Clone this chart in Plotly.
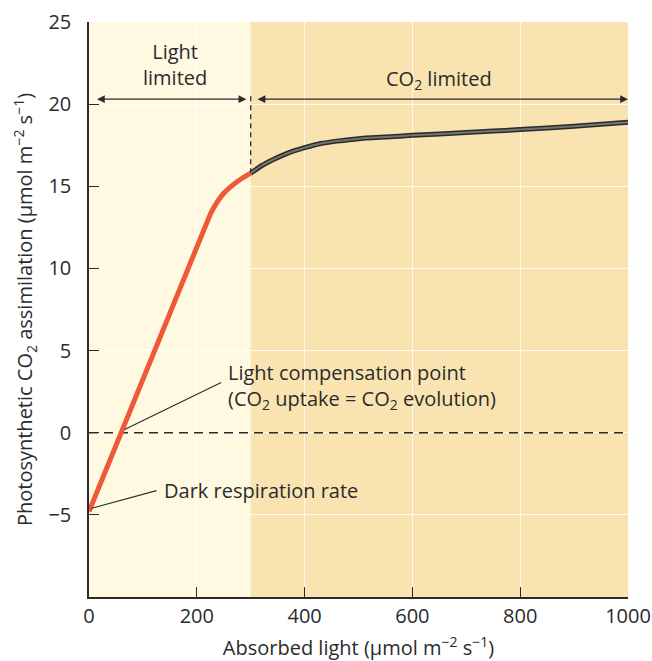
import plotly.graph_objects as go

# absorbed light (umol m-2 s-1) and CO2 assimilation
light_limited_x = [0, 225, 236, 248, 262, 280, 300]
light_limited_y = [-4.8, 13.3, 13.95, 14.5, 14.95, 15.4, 15.8]
co2_limited_x = [300, 320, 340, 360, 380, 400, 430, 460, 500, 550, 600, 700, 800, 900, 1000]
co2_limited_y = [15.8, 16.25, 16.6, 16.9, 17.15, 17.35, 17.6, 17.75, 17.9, 18.0, 18.1,
                 18.27, 18.45, 18.65, 18.9]

x_ticks = [0, 200, 400, 600, 800, 1000]
y_ticks = [-5, 0, 5, 10, 15, 20, 25]
y_tick_text = ['\u22125', '0', '5', '10', '15', '20', '25']

boundary = 300
arrow_y = 20.3

FONT = 'Open Sans'
SIZE = 20
INK = '#2b2b2b'

fig = go.Figure()

# compensation line at zero
fig.add_trace(go.Scatter(
    x=[0, 1000], y=[0, 0], mode='lines',
    line=dict(color=INK, width=1.5, dash='9px,6px'),
    hoverinfo='skip', showlegend=False
))

# boundary between light and CO2 limitation
fig.add_trace(go.Scatter(
    x=[boundary, boundary], y=[co2_limited_y[0], arrow_y + 0.4], mode='lines',
    line=dict(color=INK, width=1.3, dash='5px,4px'),
    hoverinfo='skip', showlegend=False
))

# red part of the curve
fig.add_trace(go.Scatter(
    x=light_limited_x, y=light_limited_y, mode='lines',
    line=dict(color='#ee5a36', width=5, shape='spline', smoothing=0.3),
    hoverinfo='skip', showlegend=False
))

# grey part of the curve, dark edge + lighter core
fig.add_trace(go.Scatter(
    x=co2_limited_x, y=co2_limited_y, mode='lines',
    line=dict(color='#2a2a2a', width=5, shape='spline', smoothing=0.5),
    hoverinfo='skip', showlegend=False
))
fig.add_trace(go.Scatter(
    x=co2_limited_x, y=co2_limited_y, mode='lines',
    line=dict(color='#77726f', width=2, shape='spline', smoothing=0.5),
    hoverinfo='skip', showlegend=False
))

# tan background for the CO2 limited region
fig.add_shape(type='rect', xref='x', yref='y', x0=boundary, x1=1000, y0=-10, y1=25,
              fillcolor='#f9e4b1', line=dict(width=0), layer='below')

arrow = dict(xref='x', yref='y', axref='x', ayref='y', showarrow=True, text='',
             arrowhead=2, arrowsize=1.3, arrowwidth=1.2, arrowcolor=INK,
             arrowside='end+start')
fig.add_annotation(x=292, y=arrow_y, ax=12, ay=arrow_y, **arrow)
fig.add_annotation(x=1000, y=arrow_y, ax=310, ay=arrow_y, **arrow)

txt = dict(xref='x', yref='y', showarrow=False, font=dict(family=FONT, size=SIZE, color=INK))
fig.add_annotation(x=160, y=22.4, text='Light<br>limited', align='center', **txt)
fig.add_annotation(x=650, y=21.5, text='CO<sub>2</sub> limited', **txt)
fig.add_annotation(x=255, y=2.8, xanchor='left', align='left',
                   text='Light compensation point<br>(CO<sub>2</sub> uptake = CO<sub>2</sub> evolution)', **txt)
fig.add_annotation(x=135, y=-3.5, xanchor='left', text='Dark respiration rate', **txt)

# leader lines
leader = dict(xref='x', yref='y', axref='x', ayref='y', showarrow=True, text='',
              arrowhead=0, arrowwidth=1.1, arrowcolor=INK)
fig.add_annotation(x=66, y=0.2, ax=248, ay=3.1, **leader)
fig.add_annotation(x=5, y=-4.6, ax=128, ay=-3.5, **leader)

fig.update_layout(
    width=652, height=661,
    margin=dict(l=89, r=24, t=22, b=64),
    paper_bgcolor='white',
    plot_bgcolor='#fef9e0',
    font=dict(family=FONT, size=SIZE, color=INK),
    xaxis=dict(
        range=[0, 1000], tickvals=x_ticks, ticks='inside', ticklen=10,
        tickcolor=INK, showline=True, linecolor=INK, linewidth=1.5,
        showgrid=True, gridcolor='rgba(255,255,255,0.8)', gridwidth=1,
        zeroline=False, automargin=False,
        title=dict(text='Absorbed light (\u00b5mol m<sup>\u22122</sup> s<sup>\u22121</sup>)',
                   standoff=15, font=dict(size=SIZE))
    ),
    yaxis=dict(
        range=[-10, 25], tickvals=y_ticks, ticktext=y_tick_text,
        ticks='inside', ticklen=10, tickcolor=INK, ticklabelstandoff=12,
        showline=True, linecolor=INK, linewidth=1.5,
        showgrid=True, gridcolor='rgba(255,255,255,0.8)', gridwidth=1,
        zeroline=False, automargin=False,
        title=dict(text='Photosynthetic CO<sub>2</sub> assimilation (\u00b5mol m<sup>\u22122</sup> s<sup>\u22121</sup>)',
                   standoff=10, font=dict(size=SIZE))
    )
)

# page body has a default margin that would shift the figure
fig.write_html("out.html", config={'displayModeBar': False},
               post_script="document.body.style.margin='0';")
